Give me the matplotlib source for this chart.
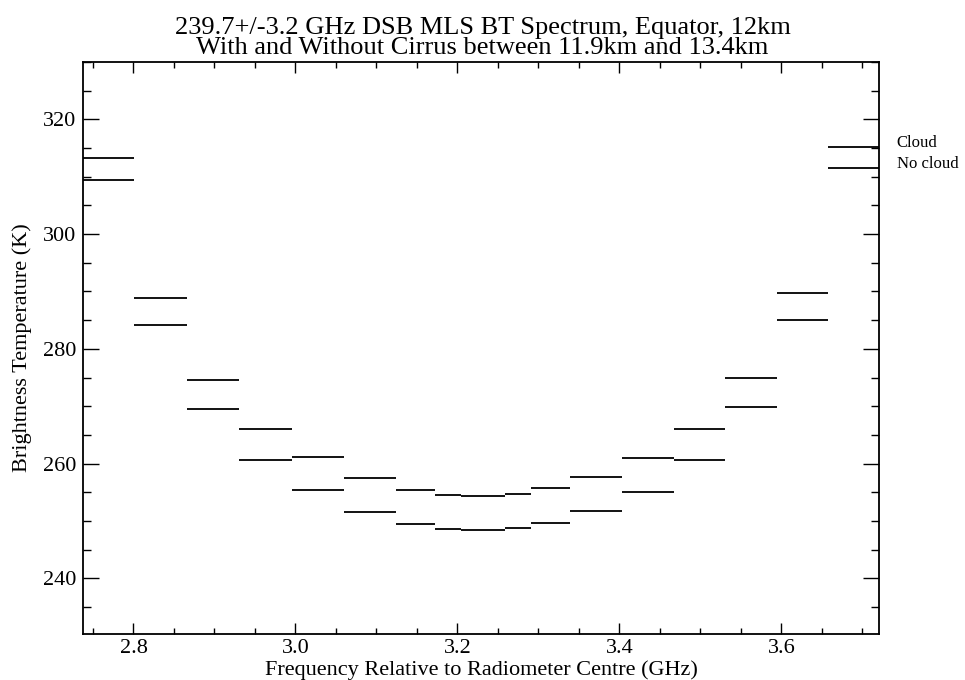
import matplotlib
matplotlib.use("Agg")
import matplotlib.pyplot as plt
import matplotlib.transforms as mtransforms
from matplotlib.ticker import MultipleLocator

# Filter-bank channel edges (GHz, relative to radiometer centre)
chan_lo = [2.7377, 2.8010, 2.8657, 2.9306, 2.9953, 3.0599, 3.1241, 3.1722, 3.2043,
           3.2586, 3.2907, 3.3389, 3.4031, 3.4673, 3.5302, 3.5944, 3.6574]
chan_hi = [2.8010, 2.8657, 2.9306, 2.9953, 3.0599, 3.1241, 3.1722, 3.2043, 3.2586,
           3.2907, 3.3389, 3.4031, 3.4673, 3.5302, 3.5944, 3.6574, 3.7204]

# Channel brightness temperatures (K)
bt_cloud = [313.3, 288.9, 274.6, 266.1, 261.2, 257.5, 255.4, 254.6, 254.4,
            254.7, 255.7, 257.6, 260.9, 266.0, 275.0, 289.7, 315.2]
bt_clear = [309.4, 284.2, 269.5, 260.6, 255.4, 251.5, 249.4, 248.6, 248.4,
            248.7, 249.7, 251.8, 255.1, 260.6, 269.8, 285.0, 311.5]

series_labels = ["Cloud", "No cloud"]
title_text = ("239.7+/-3.2 GHz DSB MLS BT Spectrum, Equator, 12km\n"
              "With and Without Cirrus between 11.9km and 13.4km")
x_ticks = [2.8, 3.0, 3.2, 3.4, 3.6]
y_ticks = [240, 260, 280, 300, 320]

plt.rcParams["font.family"] = ["Liberation Serif", "DejaVu Serif"]

W, H = 965, 680
fig = plt.figure(figsize=(W / 100, H / 100), dpi=100)
ax = fig.add_axes([83 / W, 1 - 634 / H, (879 - 83) / W, (634 - 62) / H])

for vals in (bt_cloud, bt_clear):
    ax.hlines(vals, chan_lo, chan_hi, colors="black", linewidth=1.3)

ax.set_xlim(chan_lo[0], chan_hi[-1])
ax.set_ylim(230.3, 330.0)

ax.set_xticks(x_ticks)
ax.set_xticklabels([f"{v:.1f}" for v in x_ticks])
ax.set_yticks(y_ticks)
ax.set_yticklabels([str(v) for v in y_ticks])
ax.xaxis.set_minor_locator(MultipleLocator(0.05))
ax.yaxis.set_minor_locator(MultipleLocator(5))

ax.tick_params(axis="both", which="both", direction="in", top=True, right=True,
               colors="black", width=1.0, labelsize=16)
ax.tick_params(axis="x", which="major", length=8.2, pad=3.5)
ax.tick_params(axis="x", which="minor", length=4.1)
ax.tick_params(axis="y", which="major", length=11.5, pad=5)
ax.tick_params(axis="y", which="minor", length=5.7)
for sp in ax.spines.values():
    sp.set_linewidth(1.3)

ax.set_xlabel("Frequency Relative to Radiometer Centre (GHz)", fontsize=16)
ax.xaxis.set_label_coords(0.5, -(675 - 634) / (634 - 62), transform=ax.transAxes)
ax.xaxis.label.set_va("baseline")
ax.set_ylabel("Brightness Temperature (K)", fontsize=16)
ax.yaxis.set_label_coords(-(83 - 22) / (879 - 83), 0.5)
ax.yaxis.label.set_va("center")

# Series labels placed beside the last channel of each curve
trans = mtransforms.blended_transform_factory(ax.transAxes, ax.transData)
for lab, vals in zip(series_labels, (bt_cloud, bt_clear)):
    ax.text(1.0222, vals[-1], lab, transform=trans, fontsize=12,
            ha="left", va="baseline")

# Two-line title, tightly spaced (anchored on the baseline of its last line)
fig.text(0.5, 1 - 54 / H, title_text, ha="center", va="baseline",
         multialignment="center", fontsize=19, linespacing=0.9)

fig.savefig("out.png", dpi=100, facecolor="white")
